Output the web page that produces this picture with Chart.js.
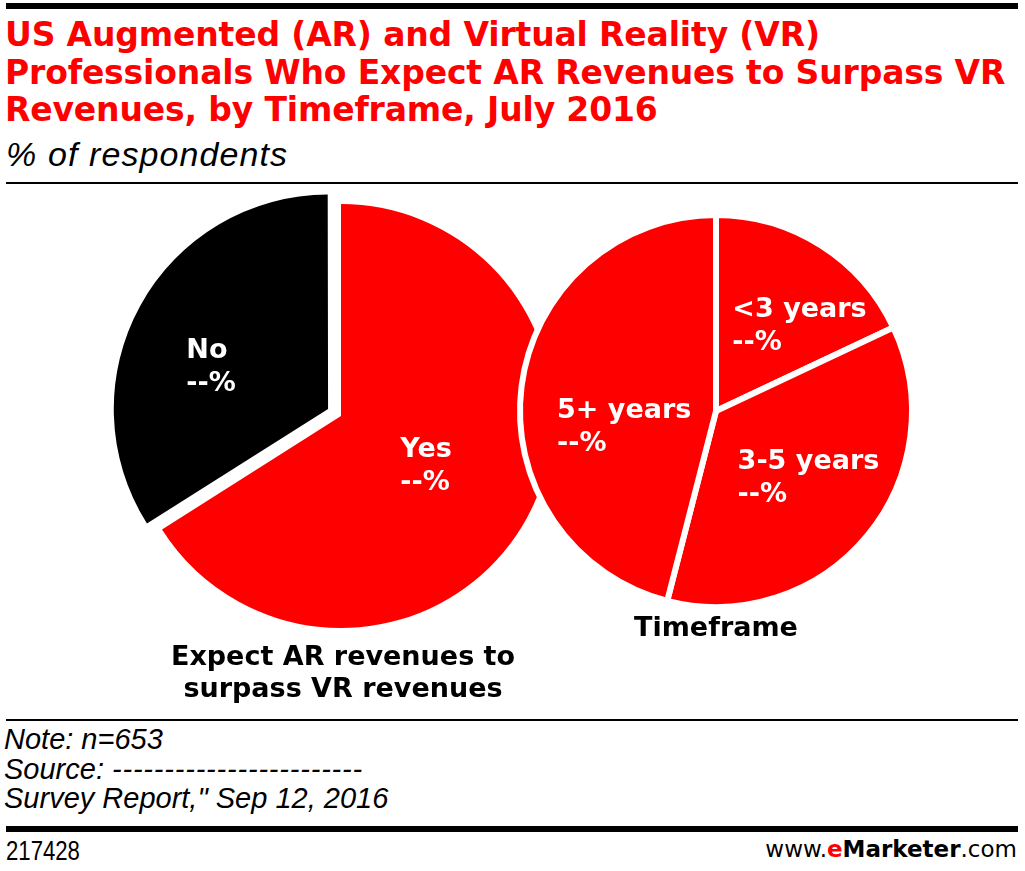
<!DOCTYPE html>
<html>
<head>
<meta charset="utf-8">
<title>AR vs VR revenues</title>
<script src="https://cdn.jsdelivr.net/npm/chart.js@4.4.1/dist/chart.umd.min.js"></script>
<style>
  html, body { margin: 0; padding: 0; background: #fff; }
  #page { position: relative; width: 1025px; height: 871px; overflow: hidden; background: #fff; }
  .rule { position: absolute; left: 6px; width: 1012px; background: #000; }
  .txt { position: absolute; white-space: nowrap; color: #000; }
  #title { left: 5px; top: 16px; font: bold 33px/37.5px "DejaVu Sans", sans-serif; color: #ff0000; letter-spacing: -0.15px; }
  #subtitle { left: 6px; top: 134px; font: italic 34px/40px "Liberation Sans", sans-serif; letter-spacing: 1.1px; }
  .pieTitle { font: bold 27px/32px "DejaVu Sans", sans-serif; text-align: center; width: 400px; }
  #notes { left: 4px; top: 725px; font: italic 29px/29.5px "Liberation Sans", sans-serif; }
  #notes .dash { letter-spacing: 0.8px; }
  #chartId { left: 6px; top: 836px; font: 27px/30px "Liberation Sans", sans-serif; transform: scaleX(0.82); transform-origin: left top; }
  #brand { right: 8px; top: 836px; font: 23px/26px "DejaVu Sans", sans-serif; }
  #brand b { font-weight: bold; }
  #brand .e { color: #ff0000; }
  canvas { position: absolute; }
</style>
</head>
<body>
<div id="page">
  <div class="rule" style="top:3px;height:6px"></div>
  <div id="title" class="txt">US Augmented (AR) and Virtual Reality (VR)<br>Professionals Who Expect AR Revenues to Surpass VR<br>Revenues, by Timeframe, July 2016</div>
  <div id="subtitle" class="txt">% of respondents</div>
  <div class="rule" style="top:182px;height:2px"></div>

  <canvas id="answerPie" width="480" height="480" style="left:101px;top:176px"></canvas>
  <canvas id="timeframePie" width="440" height="440" style="left:496px;top:191px"></canvas>

  <div class="txt pieTitle" style="left:143px;top:640px">Expect AR revenues to<br>surpass VR revenues</div>
  <div class="txt pieTitle" style="left:516px;top:611px">Timeframe</div>

  <div class="rule" style="top:719px;height:2px"></div>
  <div id="notes" class="txt">Note: n=653<br>Source: <span class="dash">------------------------</span><br>Survey Report," Sep 12, 2016</div>
  <div class="rule" style="top:826px;height:6px"></div>
  <div id="chartId" class="txt">217428</div>
  <div id="brand" class="txt">www.<b class="e">e</b><b>Marketer</b>.com</div>
</div>

<script>
const answerLabels = ["Yes", "No"];
const answerValues = [66, 34];
const answerValueText = ["--%", "--%"];

const timeframeLabels = ["<3 years", "3-5 years", "5+ years"];
const timeframeValues = [18, 36, 46];
const timeframeValueText = ["--%", "--%", "--%"];

const RED = "#ff0000";

// two-line label inside each slice: name, then value
const sliceLabels = {
  id: "sliceLabels",
  afterDatasetsDraw(chart, args, opts) {
    const { ctx } = chart;
    const meta = chart.getDatasetMeta(0);
    const names = chart.data.labels;
    ctx.save();
    ctx.font = opts.font;
    ctx.fillStyle = opts.color;
    ctx.textAlign = "left";
    ctx.textBaseline = "alphabetic";
    meta.data.forEach((arc, i) => {
      const [frac, shift] = opts.place[i];
      const mid = (arc.startAngle + arc.endAngle) / 2 + (shift * Math.PI) / 180;
      const cx = arc.x + Math.cos(mid) * arc.outerRadius * frac;
      const cy = arc.y + Math.sin(mid) * arc.outerRadius * frac;
      const lines = [names[i], opts.values[i]];
      const w = Math.max(...lines.map((t) => ctx.measureText(t).width));
      ctx.fillText(lines[0], cx - w / 2, cy - 6);
      ctx.fillText(lines[1], cx - w / 2, cy + 27);
    });
    ctx.restore();
  },
};

const baseOptions = {
  responsive: false,
  animation: false,
  events: [],
  layout: { padding: 0 },
  plugins: {
    legend: { display: false },
    tooltip: { enabled: false },
  },
};

new Chart(document.getElementById("answerPie"), {
  type: "pie",
  data: {
    labels: answerLabels,
    datasets: [
      {
        data: answerValues,
        backgroundColor: [RED, "#000000"],
        borderWidth: 0,
        offset: [0, 59],
      },
    ],
  },
  options: {
    ...baseOptions,
    radius: 212,
    plugins: {
      ...baseOptions.plugins,
      sliceLabels: {
        font: 'bold 27px "DejaVu Sans"',
        color: "#ffffff",
        values: answerValueText,
        place: [
          [0.458, 0],
          [0.66, -7],
        ],
      },
    },
  },
  plugins: [sliceLabels],
});

new Chart(document.getElementById("timeframePie"), {
  type: "pie",
  data: {
    labels: timeframeLabels,
    datasets: [
      {
        data: timeframeValues,
        backgroundColor: RED,
        borderColor: "#ffffff",
        borderWidth: 6,
      },
    ],
  },
  options: {
    ...baseOptions,
    radius: 196,
    plugins: {
      ...baseOptions.plugins,
      sliceLabels: {
        font: 'bold 27px "DejaVu Sans"',
        color: "#ffffff",
        values: timeframeValueText,
        place: [
          [0.62, 11],
          [0.573, -5],
          [0.473, -15],
        ],
      },
    },
  },
  plugins: [sliceLabels],
});
</script>
</body>
</html>
